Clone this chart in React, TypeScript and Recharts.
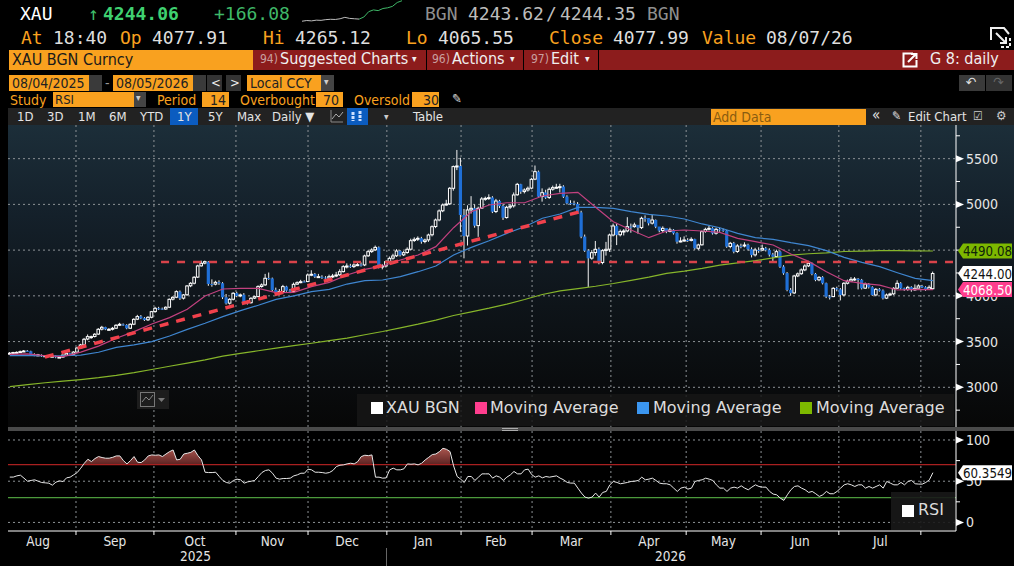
import React from 'react';
import { ComposedChart, LineChart, Line, Bar, Area, XAxis, YAxis, CartesianGrid, ReferenceLine } from 'recharts';

const opens = [
  3365,3373,3378,3384,3392,3399,3394,3352,3346,3354,3340,3345,3336,3340,3326,3330,3352,3372,3362,3385,
  3430,3463,3528,3552,3556,3582,3636,3658,3632,3634,3646,3680,3688,3682,3646,3690,3745,3775,3756,3738,3766,3828,
  3864,3860,3856,3876,3964,3985,4045,3975,4012,4110,4138,4205,4328,4358,4372,4130,4128,4150,4138,3985,3920,3963,4030,
  3999,4012,3928,3925,3975,3992,4102,4120,4194,4190,4066,4036,4048,4102,4058,4047,4128,4145,4156,4156,
  4228,4238,4210,4208,4200,4194,4210,4218,4230,4265,4320,4328,4320,4338,4342,4338,4438,4484,4503,4530,4320,4328,
  4374,4412,4438,4490,4448,4474,4510,4605,4620,4630,4594,4612,4668,4758,4830,4930,4995,5006,5176,5415,5420,
  4884,4654,4940,4958,4768,4960,5060,5068,5075,4922,5038,4982,4856,4970,4984,5105,5220,5140,5158,5178,
  5276,5358,5086,5130,5076,5166,5185,5188,5195,5085,5014,5012,5005,4912,4648,4496,4412,4474,4510,4365,4496,4510,
  4665,4764,4668,4704,4710,4758,4757,4776,4746,4850,4850,4795,4830,4758,4714,4740,4704,4722,4686,4594,4602,
  4611,4606,4620,4520,4558,4704,4728,4740,4685,4728,4722,4714,4540,4576,4485,4546,4546,4558,4510,4448,4502,
  4502,4520,4502,4452,4430,4484,4320,4248,4066,4032,4218,4242,4284,4328,4356,4240,4175,4204,4138,3992,3992,4084,
  4071,4010,4138,4162,4182,4186,4175,4084,4130,4095,4010,4072,4058,3975,4010,4022,4084,4138,4084,4072,4095,4066,4084,
  4108,4094,4072,4078,
];
const highs = [
  3385,3388,3392,3402,3408,3408,3400,3372,3365,3360,3352,3352,3348,3348,3338,3358,3382,3378,3395,3438,
  3475,3540,3578,3565,3592,3648,3672,3662,3648,3660,3690,3705,3698,3690,3700,3755,3792,3790,3768,3778,3835,3880,
  3880,3872,3885,3972,3995,4060,4058,4020,4118,4150,4215,4340,4385,4385,4380,4180,4165,4170,4150,4020,3975,4040,4045,
  4025,4030,3950,3985,4000,4115,4135,4240,4255,4200,4090,4075,4120,4110,4075,4145,4158,4175,4170,4245,
  4280,4250,4240,4225,4215,4232,4240,4262,4290,4335,4355,4350,4355,4360,4365,4450,4500,4520,4550,4540,4345,4385,
  4430,4460,4510,4500,4490,4530,4625,4640,4650,4645,4625,4680,4770,4845,4945,5010,5050,5190,5425,5595,5510,
  4950,4990,5090,5000,4975,5080,5085,5110,5090,5060,5050,5000,4985,5005,5130,5235,5225,5175,5195,5290,
  5425,5370,5175,5160,5185,5205,5225,5225,5210,5100,5045,5040,5025,4930,4670,4510,4500,4600,4530,4510,4590,4680,
  4790,4790,4725,4730,4860,4790,4800,4765,4865,4880,4850,4885,4835,4740,4760,4730,4745,4730,4695,4640,4650,
  4630,4640,4625,4570,4715,4745,4765,4750,4745,4745,4735,4720,4590,4590,4565,4570,4585,4570,4530,4525,4530,
  4560,4535,4520,4470,4505,4495,4335,4260,4085,4230,4255,4300,4345,4370,4365,4250,4215,4215,4145,4010,4095,4100,
  4085,4150,4178,4205,4205,4195,4185,4145,4140,4105,4085,4085,4070,4025,4035,4095,4170,4150,4090,4110,4105,4125,4125,
  4120,4105,4115,4265,
];
const lows = [
  3358,3365,3372,3380,3388,3390,3345,3340,3340,3332,3335,3330,3330,3318,3322,3325,3348,3358,3355,3380,
  3420,3450,3515,3530,3545,3572,3622,3625,3620,3622,3640,3670,3672,3635,3640,3680,3735,3745,3725,3725,3755,3815,
  3845,3845,3848,3868,3950,3975,3955,3960,4000,4095,4125,4195,4320,4345,4110,4100,4115,4120,3965,3905,3905,3950,3985,
  3985,3915,3905,3915,3965,3985,4090,4110,4175,4050,4020,4025,4040,4045,4030,4040,4120,4138,4148,4150,
  4215,4195,4195,4185,4175,4188,4195,4205,4218,4255,4300,4305,4305,4325,4320,4325,4425,4470,4490,4300,4290,4310,
  4360,4395,4425,4430,4435,4460,4495,4590,4600,4570,4575,4590,4650,4740,4815,4915,4985,4995,5150,5375,4700,
  4410,4550,4900,4745,4645,4950,5040,5050,4905,4905,4960,4830,4845,4950,4965,5095,5115,5120,5140,5165,
  5265,5070,5030,5060,5060,5150,5170,5130,5070,5000,4995,4990,4895,4630,4480,4095,4395,4440,4345,4345,4440,4480,
  4650,4555,4650,4660,4695,4690,4745,4680,4730,4810,4770,4780,4740,4695,4690,4685,4695,4670,4570,4585,4590,
  4590,4595,4505,4500,4550,4690,4715,4670,4670,4700,4700,4525,4520,4465,4470,4520,4530,4495,4420,4430,4470,
  4490,4485,4430,4380,4420,4305,4230,4050,4000,4020,4205,4230,4270,4315,4225,4160,4160,4125,3975,3960,3985,4050,
  3950,3995,4125,4150,4165,4070,4070,4075,4080,4000,3995,4045,3960,3965,4000,4010,4075,4070,4055,4055,4045,4055,4085,
  4085,4055,4065,4066,
];
const closes = [
  3373,3380,3382,3390,3397,3395,3352,3348,3355,3340,3345,3338,3340,3328,3330,3352,3372,3365,3385,3430,
  3463,3525,3554,3554,3580,3634,3656,3634,3634,3645,3678,3689,3681,3645,3689,3743,3773,3755,3736,3765,3827,3864,
  3860,3855,3875,3962,3984,4046,3973,4010,4108,4137,4203,4327,4356,4374,4130,4126,4148,4137,3984,3918,3962,4028,3999,
  4010,3926,3926,3973,3991,4101,4119,4192,4192,4064,4035,4046,4101,4057,4046,4126,4144,4155,4155,4228,
  4236,4210,4210,4199,4192,4210,4217,4228,4264,4319,4326,4319,4337,4341,4337,4436,4483,4501,4530,4319,4326,4374,
  4410,4436,4490,4447,4472,4509,4603,4618,4629,4592,4610,4665,4756,4829,4928,4993,5004,5176,5413,5420,4884,
  4654,4939,4957,4767,4957,5059,5066,5074,4920,5037,4982,4855,4968,4982,5103,5219,5139,5157,5176,5274,
  5358,5084,5128,5074,5165,5183,5187,5194,5084,5012,5012,5004,4910,4647,4494,4410,4472,4509,4363,4494,4509,4665,
  4764,4665,4702,4709,4756,4756,4775,4745,4848,4848,4793,4829,4756,4713,4738,4702,4720,4684,4592,4600,4611,
  4605,4618,4519,4556,4702,4727,4738,4683,4727,4720,4713,4538,4574,4483,4545,4545,4556,4509,4447,4501,4501,
  4519,4500,4450,4428,4483,4319,4246,4064,4030,4217,4240,4283,4326,4355,4239,4173,4202,4137,3991,3991,4082,4071,
  4009,4137,4160,4180,4184,4173,4082,4129,4093,4009,4071,4057,3973,4009,4020,4082,4137,4082,4071,4093,4064,4082,4108,
  4093,4071,4093,4244,
];

// moving averages at every 5th bar
const maStep = 5;
const maPink = [
  3361,3365,3345,3335,3385,3450,3536,3609,3692,3762,3853,3998,4075,4082,4082,4035,4038,4101,4148,4228,4290,4326,4392,4447,4538,4745,
  4920,4993,5018,5018,5092,5121,5132,4968,4811,4720,4636,4709,4720,4709,4694,4629,4592,4556,4457,4377,4264,4166,4137,4118,4064,4071,4068.5,
];
const maBlue = [
  3346,3350,3345,3345,3352,3383,3437,3463,3499,3561,3634,3700,3773,3838,3897,3962,3999,4046,4071,4129,4166,4173,4210,4264,4326,4447,
  4530,4603,4683,4756,4848,4895,4968,4968,4957,4920,4891,4873,4840,4786,4745,4683,4636,4618,4581,4549,4494,4421,4366,4319,4253,4191,4166,
];
const maGreen = [
  3007,3030,3050,3068,3085,3105,3130,3160,3195,3230,3265,3300,3340,3372,3400,3428,3455,3482,3510,3538,3575,3610,3650,3690,3735,3785,
  3825,3865,3910,3960,4015,4055,4080,4105,4135,4170,4205,4245,4270,4300,4335,4360,4385,4415,4445,4460,4470,4485,4490,4495,4495,4492,4490.08,
];

const rsiValues = [
  55,55,56.5,57.3,53.7,50,50.9,51.7,50,48.4,48,47.6,45.2,48.8,50.4,49.6,54.1,54.9,57.7,60.5,
  65.8,71.8,76.6,73.8,77.5,79.9,78.7,77.9,77.9,79,80.7,80.7,75,71,75,79.9,73,72.6,75.8,80.7,81.9,81.5,
  81.9,79.9,83,85.9,87.9,75.8,76.6,83,83.9,85,87.9,81,75.8,60.9,60.5,60.5,60.9,55.7,50.9,48.4,47.6,50.9,52.5,
  51.7,47.6,49.2,50,50.9,55.7,60.5,63,63.8,59.7,53.7,52.5,53.3,53.3,53.7,56.5,57.7,59.7,59.7,64.6,
  63.8,60.9,60.9,60.5,59.7,60.5,63,67.8,69.4,69.8,71,71.8,71,73.8,79.9,81.5,81,81.9,54.9,54.9,53.7,54,
  63.8,65.8,63.8,63.8,65,71,70.6,71,69.8,71.8,75.8,79,82.3,83,85.9,89.9,88.7,86,68.6,55.7,52.5,
  48.4,55.7,55.7,50.9,54.9,58.9,58.9,58.9,53.7,56.5,54.9,51,54.9,57.7,61.8,58.9,58.9,63.8,64.6,58,
  54.9,56.5,54.1,55.7,54.9,55.7,56.5,53.7,51.7,48.5,47.7,47.7,41.6,35.6,30.7,29.5,30.7,35.6,30.7,36.4,37.6,45.6,
  49.7,48.5,46.9,47.7,48.5,49.7,50,50.9,54.9,51.7,52.5,53.7,50.9,47.7,46.9,46.9,45.6,41.6,37.6,41.6,42.8,
  40.4,41.6,49.7,50.9,51.7,53.7,52.5,50.9,45.6,41.6,41.6,37.6,41.6,42.8,41.6,44.4,41.6,39.6,42.8,45.6,43.6,
  42.8,42.8,37.6,34.4,33.5,29.5,26.7,33.5,39.6,43.6,44.4,41.6,39.6,36.4,37.6,34.8,31.5,33.5,37.6,34.8,34.8,37.6,
  41.6,45.6,46.9,45.6,43.6,45.6,45.6,41.6,43.6,41.6,43.6,45.6,41.6,49.7,47.7,45.6,45.6,48.5,45.6,49.7,50.9,46.9,46.5,
  46.5,48.5,51.7,60.3549,
];

const monthNames = ['Aug','Sep','Oct','Nov','Dec','Jan','Feb','Mar','Apr','May','Jun','Jul'];
const monthMids = [8,29.6,52.2,74,95,116.4,136.9,158.1,180,201,222.6,245.2];
const monthStarts = [18.65,40.6,63.7,84,106.2,127.1,147.1,169.3,190.5,211.6,233.5,256.6];
const priceTicks = [2750,3000,3250,3500,3750,4000,4250,4500,4750,5000,5250,5500,5750];
const priceGrid = [3000,3500,4000,4500,5000,5500];
// 4500 sits fully behind the green tag in the picture
const priceLabels = [3000,3500,4000,5000,5500];
const rsiTicks = [0,25,50,75,100];
const rsiLabels = [0,50,100];
const sparkGrey = [1,1.4,1.2,1.6,1.5,1.9,2.1,2.0,2.4,3.2,2.6,2.4,2.2];
const sparkGreen = [2.2,3.4,6.4,7.4,7.0,8.2,8.6,9.4,11.6,12.6];

const table = closes.map((close, i) => ({
  i,
  open: opens[i],
  close,
  high: highs[i],
  low: lows[i],
  range: [lows[i], highs[i]],
  maPink: i % maStep === 0 ? maPink[i / maStep] : undefined,
  maBlue: i % maStep === 0 ? maBlue[i / maStep] : undefined,
  maGreen: i % maStep === 0 ? maGreen[i / maStep] : undefined,
}));
const rsiTable = rsiValues.map((rsi, i) => ({
  i,
  rsi,
  over: rsi > 70 ? [70, rsi] : undefined,
  under: rsi < 30 ? [rsi, 30] : undefined,
}));
const sparkTable = [
  ...sparkGrey.map((v, i) => ({ i, grey: v, green: i === sparkGrey.length - 1 ? sparkGreen[0] : undefined })),
  ...sparkGreen.slice(1).map((v, i) => ({ i: i + sparkGrey.length, green: v })),
];

const MONO = '"DejaVu Sans Mono", monospace';
const FONT = '"DejaVu Sans", sans-serif';
const ORANGE = '#f9a11f';
const xDomain: [number, number] = [-0.5, 266.5];
const priceDomain: [number, number] = [2566, 5868];
const rsiDomain: [number, number] = [-10.4, 110.9];
const gridColor = '#8d9296';

const Candle = (props: any) => {
  const { x, y, width, height, payload } = props;
  const cx = x + width / 2;
  const perUnit = height / (payload.high - payload.low);
  const top = y + (payload.high - Math.max(payload.open, payload.close)) * perUnit;
  const bodyH = Math.max(Math.abs(payload.close - payload.open) * perUnit, 1);
  const up = payload.close >= payload.open;
  return (
    <g>
      <line x1={cx} x2={cx} y1={y} y2={y + height} stroke="#f2f2f2" strokeWidth={1} />
      {up ? (
        <rect x={cx - 1.3} y={top} width={2.6} height={bodyH} fill="#10171d" stroke="#ffffff" strokeWidth={1} />
      ) : (
        <rect x={cx - 1.6} y={top} width={3.2} height={bodyH} fill="#1f6fd6" />
      )}
    </g>
  );
};

const AxisTick = (props: any) => {
  const { x, y, payload, labels } = props;
  if (labels.includes(payload.value)) {
    return (
      <g>
        <path d={`M${x} ${y - 3.5}L${x + 8} ${y}L${x} ${y + 3.5}Z`} fill="#ffffff" />
        <text x={x + 10} y={y + 5} fontSize={14} fill="#e6e6e6" fontFamily={FONT} style={{ fontStretch: 'condensed' }}>{payload.value}</text>
      </g>
    );
  }
  return <line x1={x} x2={x + 4} y1={y} y2={y} stroke="#ffffff" />;
};

const MonthTick = (props: any) => {
  const { x, y, payload } = props;
  const k = monthMids.indexOf(payload.value);
  if (k >= 0) {
    return <text x={x} y={y + 15} textAnchor="middle" fontSize={13.5} fill="#e6e6e6" fontFamily={FONT} style={{ fontStretch: 'condensed' }}>{monthNames[k]}</text>;
  }
  return <line x1={x} x2={x} y1={y} y2={y + 4} stroke="#ffffff" />;
};

const ValueTag = (props: any) => {
  const { viewBox, text, fill, color } = props;
  const x = viewBox.x + viewBox.width + 2;
  const y = viewBox.y;
  return (
    <g>
      <path d={`M${x} ${y}L${x + 5} ${y - 7.5}H${x + 54}V${y + 7.5}H${x + 5}Z`} fill={fill} />
      <text x={x + 5} y={y + 5} fontSize={14} fill={color} fontFamily={FONT} textLength={49} lengthAdjust="spacingAndGlyphs" style={{ fontStretch: 'condensed' }}>{text}</text>
    </g>
  );
};

const T = ({ x, y, c = '#dedede', s = 14, f = FONT, w = 400, children }: any) => (
  <span style={{ position: 'absolute', left: x, top: y, color: c, fontSize: s, fontFamily: f, fontWeight: w, fontStretch: f === FONT ? 'condensed' : 'normal', lineHeight: 1, whiteSpace: 'pre' }}>{children}</span>
);
const M = (props: any) => <T f={MONO} s={18} {...props} />;
const Box = ({ x, y, w, h, c, children, style }: any) => (
  <div style={{ position: 'absolute', left: x, top: y, width: w, height: h, background: c, ...style }}>{children}</div>
);

const rangeTabs = [['1D',17],['3D',47],['1M',78],['6M',109],['YTD',140],['1Y',177],['5Y',208],['Max',237]];
const legendItems = [
  ['XAU BGN', '#ffffff', 371, 386],
  ['Moving Average', '#ff3e8e', 475, 490],
  ['Moving Average', '#3b96f0', 637, 653],
  ['Moving Average', '#7db800', 800, 816],
];

const Header = () => (
  <>
    <M x={20} y={5} c="#fff">XAU</M>
    <M x={88} y={5} c="#3fbf6a">↑</M>
    <M x={103} y={5} c="#3fd070" w={700}>4244.06</M>
    <M x={214} y={5} c="#3fb868">+166.08</M>
    <M x={425} y={5} c="#8f8f8f">BGN</M>
    <M x={468} y={5} c="#bdbdbd">4243.62</M>
    <M x={546} y={5} c="#bdbdbd">/</M>
    <M x={560} y={5} c="#bdbdbd">4244.35</M>
    <M x={647} y={5} c="#8f8f8f">BGN</M>

    <M x={21} y={29} c={ORANGE}>At</M>
    <M x={53} y={29}>18:40</M>
    <M x={120} y={29} c={ORANGE}>Op</M>
    <M x={152} y={29}>4077.91</M>
    <M x={263} y={29} c={ORANGE}>Hi</M>
    <M x={295} y={29}>4265.12</M>
    <M x={406} y={29} c={ORANGE}>Lo</M>
    <M x={438} y={29}>4065.55</M>
    <M x={549} y={29} c={ORANGE}>Close</M>
    <M x={613} y={29}>4077.99</M>
    <M x={702} y={29} c={ORANGE}>Value</M>
    <M x={766} y={29}>08/07/26</M>
    <svg style={{ position: 'absolute', left: 989, top: 26 }} width={24} height={24}>
      <path d="M2 14V2H15L20 8" fill="none" stroke="#eee" strokeWidth={2} />
      <path d="M7 7L17 17M17 11V17H11" fill="none" stroke="#eee" strokeWidth={2} />
      <path d="M21 12V21H11" fill="none" stroke="#eee" strokeWidth={2} strokeDasharray="3 2" />
    </svg>

    <Box x={9} y={50} w={244} h={20} c={ORANGE} />
    <T x={12} y={52} c="#1a1a1a" s={16}>XAU BGN Curncy</T>
    <Box x={253} y={50} w={761} h={20} c="#8c1c1c" />
    <T x={260} y={53} c="#c9a0a0" s={12}>94)</T>
    <T x={280} y={51} c="#f0f0f0" s={16}>Suggested Charts</T>
    <T x={412} y={54} c="#f0f0f0" s={10}>▾</T>
    <Box x={426} y={50} w={1} h={20} c="#000" />
    <T x={432} y={53} c="#c9a0a0" s={12}>96)</T>
    <T x={452} y={51} c="#f0f0f0" s={16}>Actions</T>
    <T x={510} y={54} c="#f0f0f0" s={10}>▾</T>
    <Box x={523} y={50} w={1} h={20} c="#000" />
    <T x={531} y={53} c="#c9a0a0" s={12}>97)</T>
    <T x={551} y={51} c="#f0f0f0" s={16}>Edit</T>
    <T x={585} y={54} c="#f0f0f0" s={10}>▾</T>
    <Box x={598} y={50} w={1} h={20} c="#000" />
    <svg style={{ position: 'absolute', left: 902, top: 52 }} width={16} height={16}>
      <path d="M11 1.5H1.5V14.5H14.5V8" fill="none" stroke="#fff" strokeWidth={2} />
      <path d="M6 10L14 2M9 2H14.5V7" fill="none" stroke="#fff" strokeWidth={2} />
    </svg>
    <T x={930} y={51} c="#f0f0f0" s={16}>G 8: daily</T>

    <Box x={9} y={75} w={80} h={16} c={ORANGE} />
    <T x={12} y={76} c="#222" s={14}>08/04/2025</T>
    <Box x={89} y={75} w={13} h={16} c="#3a3a3a" />
    <T x={105} y={76} c="#999" s={14}>-</T>
    <Box x={113} y={75} w={80} h={16} c={ORANGE} />
    <T x={116} y={76} c="#222" s={14}>08/05/2026</T>
    <Box x={193} y={75} w={13} h={16} c="#3a3a3a" />
    <Box x={207} y={75} w={15} h={16} c="#333" />
    <T x={211} y={76} c="#eee" s={13}>{'<'}</T>
    <Box x={226} y={75} w={15} h={16} c="#333" />
    <T x={230} y={76} c="#eee" s={13}>{'>'}</T>
    <Box x={247} y={75} w={74} h={16} c={ORANGE} />
    <T x={250} y={76} c="#222" s={14}>Local CCY</T>
    <Box x={321} y={75} w={13} h={16} c="#444" />
    <T x={324} y={77} c="#ccc" s={10}>▾</T>
    <Box x={959} y={75} w={26} h={16} c="#3a3a3a" />
    <Box x={986} y={75} w={26} h={16} c="#333" />
    <T x={966} y={75} c="#ddd" s={14}>↶</T>
    <T x={993} y={75} c="#666" s={14}>↷</T>

    <T x={10} y={93} c={ORANGE} s={14}>Study</T>
    <Box x={53} y={92} w={81} h={15} c={ORANGE} />
    <T x={55} y={93} c="#222" s={13}>RSI</T>
    <Box x={134} y={92} w={12} h={15} c="#444" />
    <T x={136} y={93} c="#ccc" s={10}>▾</T>
    <T x={157} y={93} c={ORANGE} s={14}>Period</T>
    <Box x={202} y={92} w={27} h={15} c={ORANGE} />
    <T x={210} y={93} c="#222" s={14}>14</T>
    <T x={240} y={93} c={ORANGE} s={14}>Overbought</T>
    <Box x={316} y={92} w={27} h={15} c={ORANGE} />
    <T x={323} y={93} c="#222" s={14}>70</T>
    <T x={354} y={93} c={ORANGE} s={14}>Oversold</T>
    <Box x={412} y={92} w={27} h={15} c={ORANGE} />
    <T x={423} y={93} c="#222" s={14}>30</T>
    <T x={452} y={92} c="#ddd" s={13}>✎</T>

    <Box x={8} y={108} w={1006} h={17} c="#222222" />
    <Box x={170} y={108} w={28} h={17} c="#0b5cc0" />
    {rangeTabs.map(([t, x]) => (
      <T key={t as string} x={x} y={110} c="#e4e4e4" s={13}>{t}</T>
    ))}
    <T x={272} y={110} c="#e4e4e4" s={13}>Daily ▼</T>
    <Box x={347} y={108} w={21} h={17} c="#0b5cc0" />
    <svg style={{ position: 'absolute', left: 330, top: 109 }} width={40} height={15}>
      <path d="M1 1V13H13" fill="none" stroke="#888" />
      <path d="M2 10L6 5L9 8L13 3" fill="none" stroke="#aaa" />
      <path d="M23 3V12M30 2V12" stroke="#cfe0ff" strokeWidth={3} strokeDasharray="3 1" />
    </svg>
    <T x={384} y={112} c="#ccc" s={10}>▾</T>
    <T x={413} y={110} c="#e4e4e4" s={13}>Table</T>
    <Box x={711} y={109} w={155} h={16} c={ORANGE} />
    <T x={713} y={110} c="#8a5c10" s={14}>Add Data</T>
    <T x={872} y={108} c="#e4e4e4" s={15}>«</T>
    <T x={892} y={110} c="#e4e4e4" s={12}>✎</T>
    <T x={908} y={110} c="#e4e4e4" s={13}>Edit Chart</T>
    <T x={973} y={110} c="#ccc" s={12}>☑</T>
    <T x={996} y={109} c="#ccc" s={13}>⚙</T>
  </>
);

const App = () => (
  <div style={{ position: 'absolute', left: 0, top: 0, width: 1014, height: 566, background: '#000', overflow: 'hidden' }}>
    <Header />
    <div style={{ position: 'absolute', left: 302, top: 0 }}>
      <LineChart width={100} height={24} data={sparkTable} margin={{ top: 0, right: 0, bottom: 1, left: 0 }}>
        <YAxis hide domain={[0, 13]} />
        <Line dataKey="grey" stroke="#bdbdbd" dot={false} strokeWidth={1} isAnimationActive={false} />
        <Line dataKey="green" stroke="#3fb868" dot={false} strokeWidth={1} connectNulls isAnimationActive={false} />
      </LineChart>
    </div>

    <Box x={8} y={125} w={1006} h={302} style={{ background: 'linear-gradient(#1c2e39 0%, #14202a 30%, #0e1419 60%, #070707 100%)' }} />
    <div style={{ position: 'absolute', left: 0, top: 125 }}>
      <ComposedChart width={1014} height={302} data={table} margin={{ top: 0, right: 0, bottom: 0, left: 8 }}>
        <CartesianGrid stroke={gridColor} strokeDasharray="2 3" verticalValues={monthStarts} horizontalValues={priceGrid} />
        <XAxis dataKey="i" type="number" domain={xDomain} hide allowDataOverflow />
        <YAxis orientation="right" width={58} domain={priceDomain} ticks={priceTicks} interval={0} allowDataOverflow
          axisLine={{ stroke: '#ffffff' }} tickLine={false} tickSize={0} tickMargin={0} tick={<AxisTick labels={priceLabels} />} />
        <Bar dataKey="range" barSize={3} shape={<Candle />} isAnimationActive={false} />
        <Line dataKey="maGreen" stroke="#86b52a" strokeWidth={1.2} dot={false} connectNulls isAnimationActive={false} />
        <Line dataKey="maBlue" stroke="#3f86d0" strokeWidth={1.2} dot={false} connectNulls isAnimationActive={false} />
        <Line dataKey="maPink" stroke="#c2417f" strokeWidth={1.2} dot={false} connectNulls isAnimationActive={false} />
        <ReferenceLine ifOverflow="visible" segment={[{ x: 9.9, y: 3331 }, { x: 160.3, y: 4917 }]} stroke="#f0414c" strokeWidth={3.5} strokeDasharray="9 8" />
        <ReferenceLine ifOverflow="visible" segment={[{ x: 42.6, y: 4370 }, { x: 266, y: 4370 }]} stroke="#d8434a" strokeWidth={2.5} strokeDasharray="8 8" />
      </ComposedChart>
    </div>
    {/* second layer so the value tags sit over the axis labels */}
    <div style={{ position: 'absolute', left: 0, top: 125 }}>
      <ComposedChart width={1014} height={302} data={table} margin={{ top: 0, right: 0, bottom: 0, left: 8 }}>
        <XAxis dataKey="i" type="number" domain={xDomain} hide allowDataOverflow />
        <YAxis orientation="right" width={58} domain={priceDomain} allowDataOverflow tick={false} axisLine={false} tickLine={false} />
        <Line dataKey="close" stroke="none" dot={false} isAnimationActive={false} />
        <ReferenceLine y={4490.08} stroke="none" ifOverflow="visible" label={<ValueTag text="4490.08" fill="#7db800" color="#10240a" />} />
        <ReferenceLine y={4244} stroke="none" ifOverflow="visible" label={<ValueTag text="4244.00" fill="#ffffff" color="#111" />} />
        <ReferenceLine y={4068.5} stroke="none" ifOverflow="visible" label={<ValueTag text="4068.50" fill="#ff3e8e" color="#fff" />} />
      </ComposedChart>
    </div>

    <Box x={357} y={394} w={597} h={32} c="rgba(22,22,22,0.85)" />
    {legendItems.map(([t, c, sx, tx]) => (
      <React.Fragment key={sx as number}>
        <Box x={sx} y={402} w={12} h={12} c={c} />
        <span style={{ position: 'absolute', left: tx as number, top: 400, color: '#dcdcdc', fontSize: 16, fontFamily: FONT, lineHeight: 1, whiteSpace: 'pre' }}>{t}</span>
      </React.Fragment>
    ))}
    <Box x={137} y={390} w={32} h={19} c="#1d1d1d" />
    <svg style={{ position: 'absolute', left: 139, top: 391 }} width={28} height={17}>
      <rect x={1.5} y={1.5} width={14} height={14} fill="none" stroke="#777" />
      <path d="M3 11L7 6L10 9L14 4" fill="none" stroke="#888" />
      <path d="M19 7H26L22.5 11Z" fill="#777" />
    </svg>

    <Box x={8} y={427} w={1006} h={4} c="#4a4a4a" />
    <Box x={502} y={428} w={16} h={1} c="#aaa" />
    <Box x={502} y={430} w={16} h={1} c="#aaa" />
    <div style={{ position: 'absolute', left: 0, top: 431 }}>
      <ComposedChart width={1014} height={135} data={rsiTable} margin={{ top: 0, right: 0, bottom: 0, left: 8 }}>
        <defs>
          <linearGradient id="overFill" x1="0" y1="0" x2="0" y2="1">
            <stop offset="0%" stopColor="#a8554e" />
            <stop offset="100%" stopColor="#5c2322" />
          </linearGradient>
        </defs>
        <CartesianGrid stroke={gridColor} strokeDasharray="2 3" verticalValues={monthStarts} horizontalValues={rsiLabels} />
        <XAxis dataKey="i" type="number" domain={xDomain} height={35} allowDataOverflow interval={0}
          ticks={[...monthStarts, ...monthMids].sort((a, b) => a - b)}
          axisLine={{ stroke: '#ffffff' }} tickLine={false} tickSize={0} tickMargin={0} tick={<MonthTick />} />
        <YAxis orientation="right" width={58} domain={rsiDomain} ticks={rsiTicks} interval={0} allowDataOverflow
          axisLine={{ stroke: '#ffffff' }} tickLine={false} tickSize={0} tickMargin={0} tick={<AxisTick labels={rsiLabels} />} />
        <Area dataKey="over" stroke="none" fill="url(#overFill)" fillOpacity={1} isAnimationActive={false} />
        <Area dataKey="under" stroke="none" fill="#3a8a3a" fillOpacity={0.8} isAnimationActive={false} />
        <ReferenceLine y={70} stroke="#a82020" strokeWidth={1.3} />
        <ReferenceLine y={30} stroke="#4c9a3c" strokeWidth={1.3} />
        <Line dataKey="rsi" stroke="#e8e8e8" strokeWidth={1} dot={false} isAnimationActive={false} />
      </ComposedChart>
    </div>
    <div style={{ position: 'absolute', left: 0, top: 431 }}>
      <ComposedChart width={1014} height={135} data={rsiTable} margin={{ top: 0, right: 0, bottom: 35, left: 8 }}>
        <XAxis dataKey="i" type="number" domain={xDomain} hide allowDataOverflow />
        <YAxis orientation="right" width={58} domain={rsiDomain} allowDataOverflow tick={false} axisLine={false} tickLine={false} />
        <Line dataKey="rsi" stroke="none" dot={false} isAnimationActive={false} />
        <ReferenceLine y={60.3549} stroke="none" ifOverflow="visible" label={<ValueTag text="60.3549" fill="#ffffff" color="#111" />} />
      </ComposedChart>
    </div>
    <Box x={891} y={492} w={64} h={38} c="rgba(24,24,24,0.9)" />
    <Box x={902} y={505} w={12} h={12} c="#fff" />
    <span style={{ position: 'absolute', left: 918, top: 502, color: '#dcdcdc', fontSize: 16, fontFamily: FONT, lineHeight: 1 }}>RSI</span>
    <T x={180} y={550} c="#e6e6e6" s={13.5}>2025</T>
    <T x={655} y={550} c="#e6e6e6" s={13.5}>2026</T>
    <Box x={386} y={548} w={1} h={18} c="#666" />
  </div>
);

export default App;
